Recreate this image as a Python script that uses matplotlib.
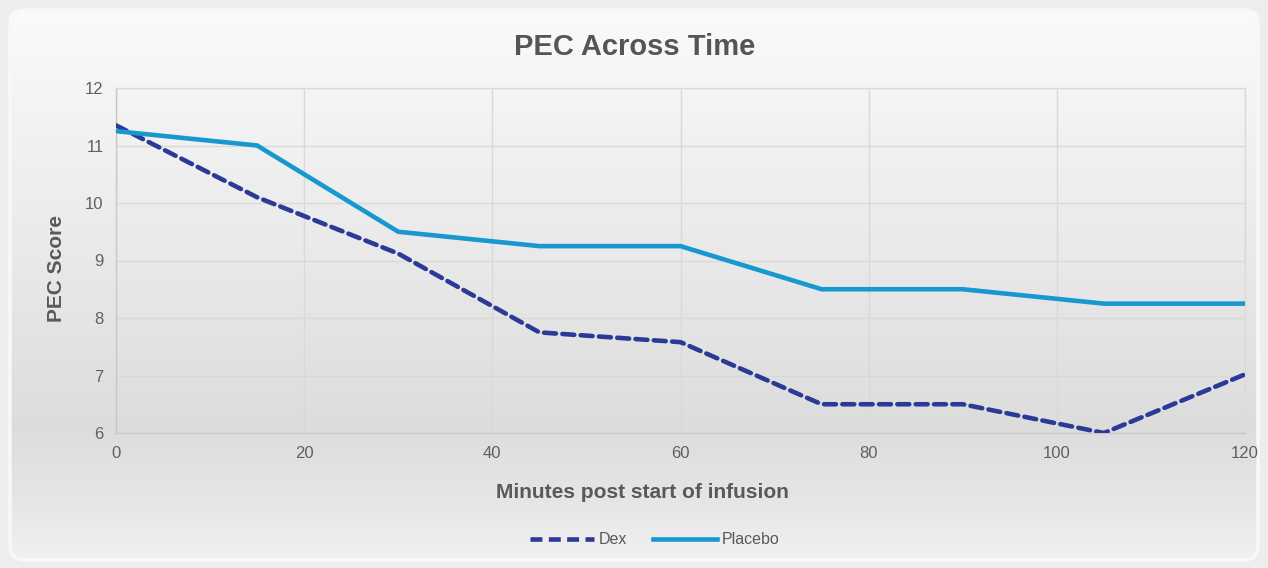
import numpy as np
import matplotlib
matplotlib.use("Agg")
import matplotlib.pyplot as plt
from matplotlib.patches import FancyBboxPatch
from matplotlib.lines import Line2D

plt.rcParams['font.family'] = ['Liberation Sans', 'DejaVu Sans']

minutes = [0, 15, 30, 45, 60, 75, 90, 105, 120]
dex = [11.35, 10.1, 9.12, 7.75, 7.58, 6.5, 6.5, 6.0, 7.02]
placebo = [11.25, 11.0, 9.5, 9.25, 9.25, 8.5, 8.5, 8.25, 8.25]
x_ticks = [0, 20, 40, 60, 80, 100, 120]
y_ticks = [6, 7, 8, 9, 10, 11, 12]

text_gray = '#595959'
dex_color = '#2b3a97'
placebo_color = '#1798cf'

fig = plt.figure(figsize=(12.68, 5.68), dpi=100)
fig.patch.set_facecolor('#ededed')

# rounded panel with vertical gradient
bg = fig.add_axes([0, 0, 1, 1], zorder=0)
bg.set_xlim(0, 1268)
bg.set_ylim(568, 0)
bg.axis('off')
ys = np.linspace(0, 1, 568)
stops_y = [0.0, 0.15, 0.45, 0.75, 0.88, 1.0]
stops_v = [0.985, 0.96, 0.915, 0.865, 0.90, 0.95]
vals = np.interp(ys, stops_y, stops_v)
grad = np.repeat(vals[:, None], 2, axis=1)
img = bg.imshow(np.dstack([grad, grad, grad]), extent=[0, 1268, 568, 0],
                aspect='auto', interpolation='bilinear')
panel = FancyBboxPatch((10, 10), 1248, 550, boxstyle='round,pad=0,rounding_size=14',
                       facecolor='none', edgecolor='#f8f8f8', linewidth=2.5,
                       transform=bg.transData)
bg.add_patch(panel)
img.set_clip_path(panel)

ax = fig.add_axes([116 / 1268, 1 - 433 / 568, (1245 - 116) / 1268, (433 - 88) / 568], zorder=1)
ax.patch.set_alpha(0)
ax.plot(minutes, dex, color=dex_color, linewidth=3.3, linestyle=(0, (2.6, 1.4)),
        solid_capstyle='round', dash_capstyle='round', label='Dex', zorder=3)
ax.plot(minutes, placebo, color=placebo_color, linewidth=3.3, label='Placebo', zorder=3)

ax.set_xlim(0, 120)
ax.set_ylim(6, 12)
ax.set_xticks(x_ticks)
ax.set_yticks(y_ticks)
ax.grid(True, color='#d9d9d9', linewidth=1.0, zorder=0)
for side in ['top', 'right']:
    ax.spines[side].set_color('#dadada')
for side in ['left', 'bottom']:
    ax.spines[side].set_color('#c8c8c8')
for s in ax.spines.values():
    s.set_linewidth(1.0)
ax.tick_params(length=0, labelsize=12, labelcolor='#606060', pad=9)
ax.tick_params(axis='y', pad=9)

ax.set_xlabel('Minutes post start of infusion', fontsize=15, fontweight='bold',
              color=text_gray)
ax.xaxis.set_label_coords((642 - 116) / (1245 - 116), -(492 - 433) / (433 - 88))
ax.xaxis.label.set_va('center')
ax.set_ylabel('PEC Score', fontsize=15, fontweight='bold', color=text_gray)
ax.yaxis.set_label_coords(-(116 - 57) / (1245 - 116), (433 - 268) / (433 - 88))
ax.yaxis.label.set_va('center')

fig.text(635 / 1268, 1 - 47 / 568, 'PEC Across Time', ha='center', va='center',
         fontsize=21, fontweight='bold', color='#555555')

handles = [Line2D([], [], color=dex_color, linewidth=3.3, linestyle=(0, (2.6, 1.4))),
           Line2D([], [], color=placebo_color, linewidth=3.3)]
fig.legend(handles, ['Dex', 'Placebo'], loc='center', bbox_to_anchor=(655 / 1268, 1 - 540 / 568),
           ncol=2, frameon=False, fontsize=11.5, labelcolor=text_gray,
           handlelength=4.0, handletextpad=0.3, columnspacing=1.6)

fig.savefig('out.png', dpi=100, facecolor=fig.get_facecolor())
